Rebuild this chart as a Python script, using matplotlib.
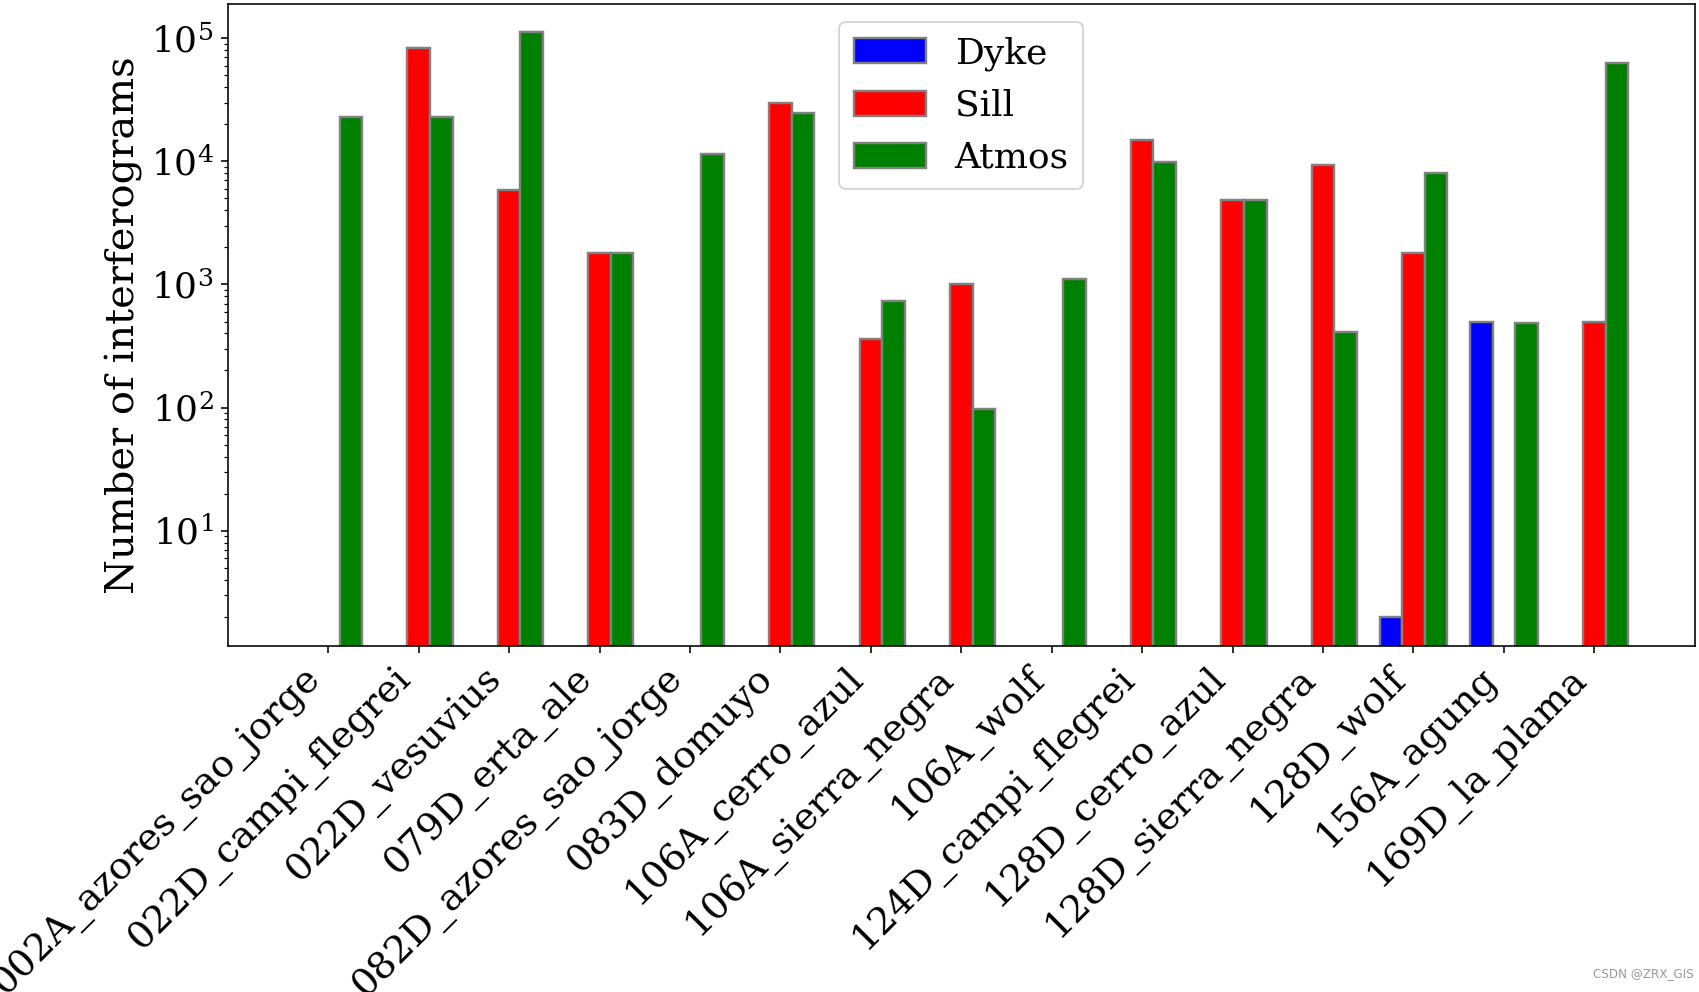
import matplotlib
matplotlib.use('Agg')
import matplotlib.pyplot as plt
import numpy as np

# Data (log scale)
tracks = [
    "002A_azores_sao_jorge", "022D_campi_flegrei", "022D_vesuvius",
    "079D_erta_ale", "082D_azores_sao_jorge", "083D_domuyo",
    "106A_cerro_azul", "106A_sierra_negra", "106A_wolf",
    "124D_campi_flegrei", "128D_cerro_azul", "128D_sierra_negra",
    "128D_wolf", "156A_agung", "169D_la_plama",
]
nan = np.nan
dyke = [nan, nan, nan, nan, nan, nan, nan, nan, nan, nan, nan, nan, 2, 500, nan]
sill = [nan, 84000, 5800, 1800, nan, 30000, 360, 1000, nan,
        15000, 4900, 9400, 1800, nan, 500]
atmos = [23000, 23000, 112000, 1800, 11400, 24500, 740, 97, 1100,
         9800, 4900, 414, 8000, 485, 63500]

plt.rcParams['font.family'] = ['DejaVu Serif']
plt.rcParams['font.size'] = 18

fig, ax = plt.subplots(figsize=(1699 / 144, 992 / 144), dpi=144)
fig.subplots_adjust(left=0.134, right=0.9976, top=0.996, bottom=0.349)

x = np.arange(len(tracks))
w = 0.25
edge = dict(edgecolor='gray', linewidth=1.2)
ax.bar(x - w, dyke, w, color='blue', label='Dyke', **edge)
ax.bar(x, sill, w, color='red', label='Sill', **edge)
ax.bar(x + w, atmos, w, color='green', label='Atmos', **edge)

ax.set_yscale('log')
ax.set_ylim(1.16, 1.9e5)
# same span as default 5% margins around all bar slots
span = (x[-1] + 1.5 * w) - (x[0] - 1.5 * w)
ax.set_xlim(x[0] - 1.5 * w - 0.05 * span, x[-1] + 1.5 * w + 0.05 * span)

ax.set_ylabel('Number of interferograms', fontsize=20)
ax.set_xticks(x)
ax.set_xticklabels(tracks, rotation=45, ha='right', fontsize=19)

ax.legend(loc='upper center', fontsize=18)

fig.text(0.997, 0.012, 'CSDN @ZRX_GIS', ha='right', va='bottom',
         fontsize=6, color='#999999', family='DejaVu Sans')

plt.savefig('out.png', dpi=144)
plt.close(fig)
